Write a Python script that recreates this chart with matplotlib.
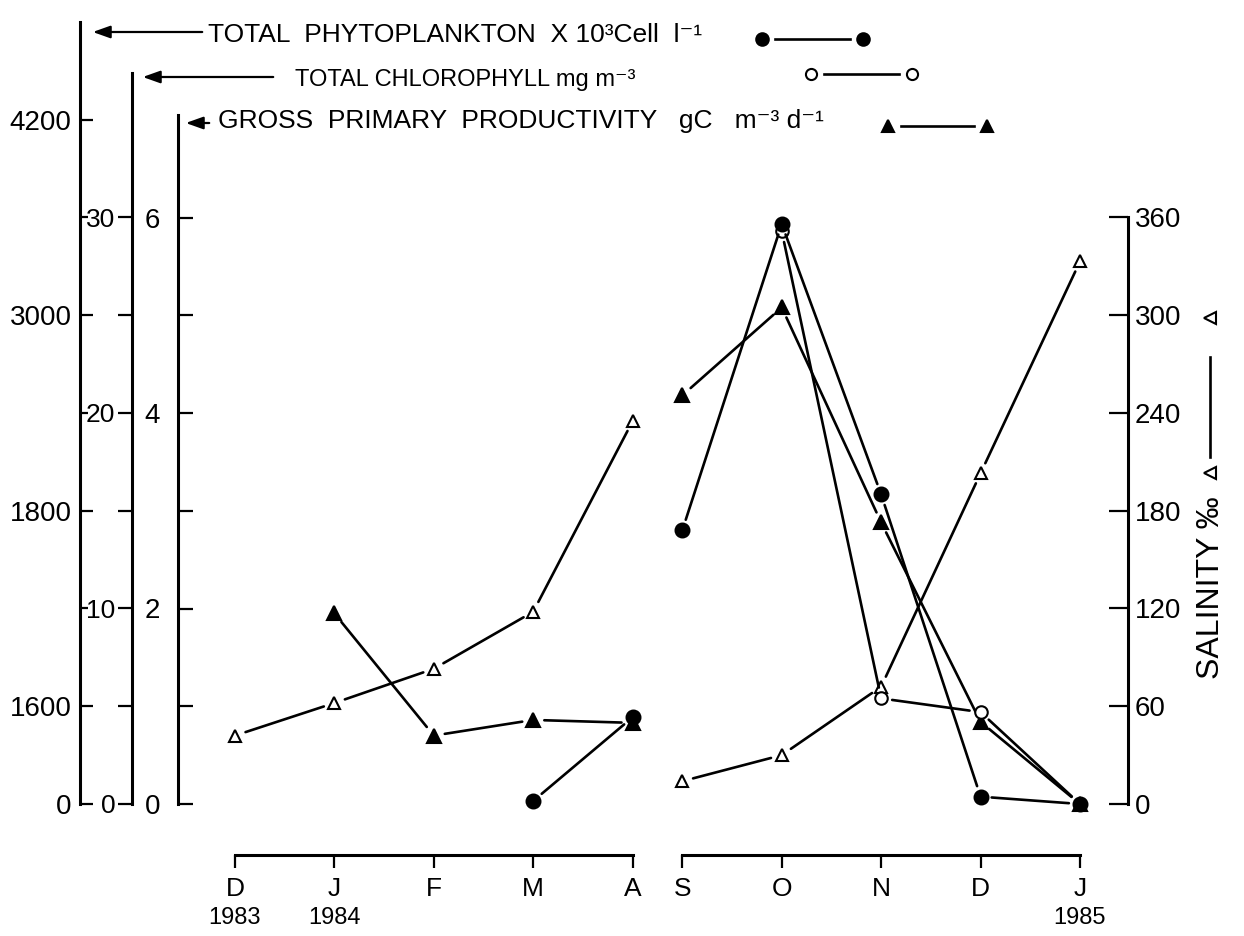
import numpy as np
import matplotlib.pyplot as plt
from matplotlib.lines import Line2D
from matplotlib.patches import FancyArrowPatch

plt.rcParams['font.family'] = ['Liberation Sans', 'DejaVu Sans']

nan = np.nan
months = ['D', 'J', 'F', 'M', 'A', 'S', 'O', 'N', 'D', 'J']
years = {0: '1983', 1: '1984', 9: '1985'}

# values (Dec 1983 - Apr 1984, Sep 1984 - Jan 1985)
salinity = [42, 62, 83, 118, 235, 14, 30, 72, 203, 333]
productivity = [nan, 1.95, 0.70, 0.86, 0.83, 4.18, 5.08, 2.88, 0.84, 0.0]
chlorophyll = [nan, nan, nan, nan, nan, nan, 29.3, 5.4, 4.7, 0.0]
phytoplankton = [nan, nan, nan, 50, 1420, 1780, 3560, 1900, 120, 0]

phyto_ticks = [0, 1600, 1800, 3000, 4200]
phyto_minor = [1700, 2400, 3600]
# broken phytoplankton scale as printed (value -> chlorophyll-equivalent position)
phyto_nodes = [0, 1600, 1800, 3000, 4200, 4800]
phyto_pos = [0, 5, 15, 25, 35, 40]

# month positions, with a break between April and September
x = np.r_[np.arange(5), np.arange(5) + 4.5]

W, H = 1244, 936
def fx(px):
    return px / W
def fy(py):
    return 1 - py / H

fig = plt.figure(figsize=(W / 100, H / 100), dpi=100)
left, right = fx(178), fx(1128)
ax = fig.add_axes([left, fy(804), right - left, fy(22) - fy(804)])
ax.set_xlim(-0.573, 8.983)
ax.set_xticks([])
ax.patch.set_visible(False)

SW = 2.2   # spine width
TW = 1.6   # tick width

# gross primary productivity (main left axis)
ax.set_ylim(0, 8)
for s in ['top', 'right', 'bottom']:
    ax.spines[s].set_visible(False)
ax.spines['left'].set_bounds(0, 7.05)
ax.spines['left'].set_linewidth(SW)
ax.set_yticks([0, 2, 4, 6], labels=['0', '2', '4', '6'])
ax.set_yticks([1, 3, 5], minor=True)
ax.tick_params(axis='y', which='both', direction='in', length=11, width=TW,
               pad=13, labelsize=20)

# salinity (right)
ax_sal = ax.twinx()
ax_sal.set_ylim(0, 480)
for s in ['top', 'left', 'bottom']:
    ax_sal.spines[s].set_visible(False)
ax_sal.spines['right'].set_bounds(0, 360)
ax_sal.spines['right'].set_linewidth(SW)
ax_sal.set_yticks(range(0, 361, 60))
ax_sal.tick_params(axis='y', direction='in', length=14, width=TW, pad=5, labelsize=20)

# chlorophyll
ax_chl = ax.twinx()
ax_chl.set_ylim(0, 40)
for s in ['top', 'right', 'bottom']:
    ax_chl.spines[s].set_visible(False)
ax_chl.spines['left'].set_visible(True)
ax_chl.spines['left'].set_position(('axes', (132 - 178) / 950))
ax_chl.spines['left'].set_bounds(0, 37.4)
ax_chl.spines['left'].set_linewidth(SW)
ax_chl.yaxis.set_ticks_position('left')
ax_chl.yaxis.set_label_position('left')
ax_chl.set_yticks([0, 10, 20, 30])
ax_chl.set_yticks([5, 15, 25], minor=True)
ax_chl.tick_params(axis='y', which='both', direction='out', length=10, width=TW,
                   pad=2, labelsize=19)

# total phytoplankton
ax_phy = ax.twinx()
ax_phy.set_yscale('function', functions=(lambda v: np.interp(v, phyto_nodes, phyto_pos),
                                         lambda p: np.interp(p, phyto_pos, phyto_nodes)))
ax_phy.set_ylim(0, 4800)
for s in ['top', 'right', 'bottom']:
    ax_phy.spines[s].set_visible(False)
ax_phy.spines['left'].set_visible(True)
ax_phy.spines['left'].set_position(('axes', (80 - 178) / 950))
ax_phy.spines['left'].set_bounds(0, 4800)
ax_phy.spines['left'].set_linewidth(SW)
ax_phy.yaxis.set_ticks_position('left')
ax_phy.yaxis.set_label_position('left')
ax_phy.set_yticks(phyto_ticks, labels=[str(t) for t in phyto_ticks])
ax_phy.set_yticks(phyto_minor, minor=True)
ax_phy.yaxis.set_minor_formatter(plt.NullFormatter())
ax_phy.tick_params(axis='y', which='major', direction='in', length=9, width=TW,
                   pad=6, labelsize=20)
ax_phy.tick_params(axis='y', which='minor', direction='in', length=6, width=TW)


def draw_series(axis, values, marker, filled, ms):
    values = np.asarray(values, dtype=float)
    for part in (slice(0, 5), slice(5, 10)):
        pts = [(a, b) for a, b in zip(x[part], values[part]) if not np.isnan(b)]
        for (x0, y0), (x1, y1) in zip(pts[:-1], pts[1:]):
            axis.annotate('', xy=(x1, y1), xytext=(x0, y0),
                          arrowprops=dict(arrowstyle='-', lw=1.9, color='black',
                                          shrinkA=8, shrinkB=8))
    axis.plot(x, values, linestyle='none', marker=marker, ms=ms, clip_on=False,
              markerfacecolor='black' if filled else 'white',
              markeredgecolor='black', markeredgewidth=1.5, zorder=5)


draw_series(ax_sal, salinity, '^', False, 8)
draw_series(ax, productivity, '^', True, 10)
draw_series(ax_chl, chlorophyll, 'o', False, 9)
draw_series(ax_phy, phytoplankton, 'o', True, 10)

# month axis, drawn in two pieces
for idx in (range(0, 5), range(5, 10)):
    axb = fig.add_axes([left, fy(855), right - left, 1e-4])
    axb.set_xlim(ax.get_xlim())
    axb.set_ylim(0, 1)
    axb.patch.set_visible(False)
    for s in ['top', 'left', 'right']:
        axb.spines[s].set_visible(False)
    axb.spines['bottom'].set_bounds(x[idx[0]], x[idx[-1]])
    axb.spines['bottom'].set_linewidth(SW)
    axb.set_yticks([])
    axb.set_xticks(x[list(idx)], labels=[months[i] for i in idx])
    axb.tick_params(axis='x', direction='out', length=9, width=TW, pad=7, labelsize=19)
    for i in idx:
        if i in years:
            axb.annotate(years[i], xy=(x[i], 0), xycoords=('data', 'axes fraction'),
                         xytext=(0, -45), textcoords='offset points',
                         ha='center', va='center', fontsize=17)

# header keys with arrows pointing to their axes
headers = [
    ('TOTAL  PHYTOPLANKTON  X 10³Cell  l⁻¹', 19, 208, 42, 205, 90, 32, 'o', True, 762, 863, 39),
    ('TOTAL CHLOROPHYLL mg m⁻³', 17, 295, 86, 276, 140, 77, 'o', False, 811, 912, 74),
    ('GROSS  PRIMARY  PRODUCTIVITY   gC   m⁻³ d⁻¹', 19, 218, 128, 212, 183, 123, '^', True, 888, 987, 126),
]
for text, size, tx, ty, a0, a1, ay, mk, filled, k0, k1, ky in headers:
    fig.text(fx(tx), fy(ty), text, fontsize=size, va='baseline', ha='left')
    fig.add_artist(FancyArrowPatch((fx(a0), fy(ay)), (fx(a1), fy(ay)),
                                   transform=fig.transFigure,
                                   arrowstyle='-|>,head_length=0.7,head_width=0.25',
                                   mutation_scale=15, lw=1.6, color='black'))
    fig.add_artist(Line2D([fx(k0 + 13), fx(k1 - 13)], [fy(ky), fy(ky)],
                          transform=fig.transFigure, lw=1.9, color='black'))
    fig.add_artist(Line2D([fx(k0), fx(k1)], [fy(ky), fy(ky)], transform=fig.transFigure,
                          linestyle='none', marker=mk, ms=9 if filled else 8,
                          markerfacecolor='black' if filled else 'white',
                          markeredgecolor='black', markeredgewidth=1.5))

# salinity key on the right
fig.text(fx(1211), fy(588), 'SALINITY ‰', rotation=90, ha='center', va='center',
         fontsize=23)
fig.add_artist(Line2D([fx(1210), fx(1210)], [fy(457), fy(357)], transform=fig.transFigure,
                      lw=1.9, color='black'))
fig.add_artist(Line2D([fx(1210), fx(1210)], [fy(473), fy(318)], transform=fig.transFigure,
                      linestyle='none', marker='<', ms=8, markerfacecolor='white',
                      markeredgecolor='black', markeredgewidth=1.5))

fig.savefig('out.png', dpi=100)
